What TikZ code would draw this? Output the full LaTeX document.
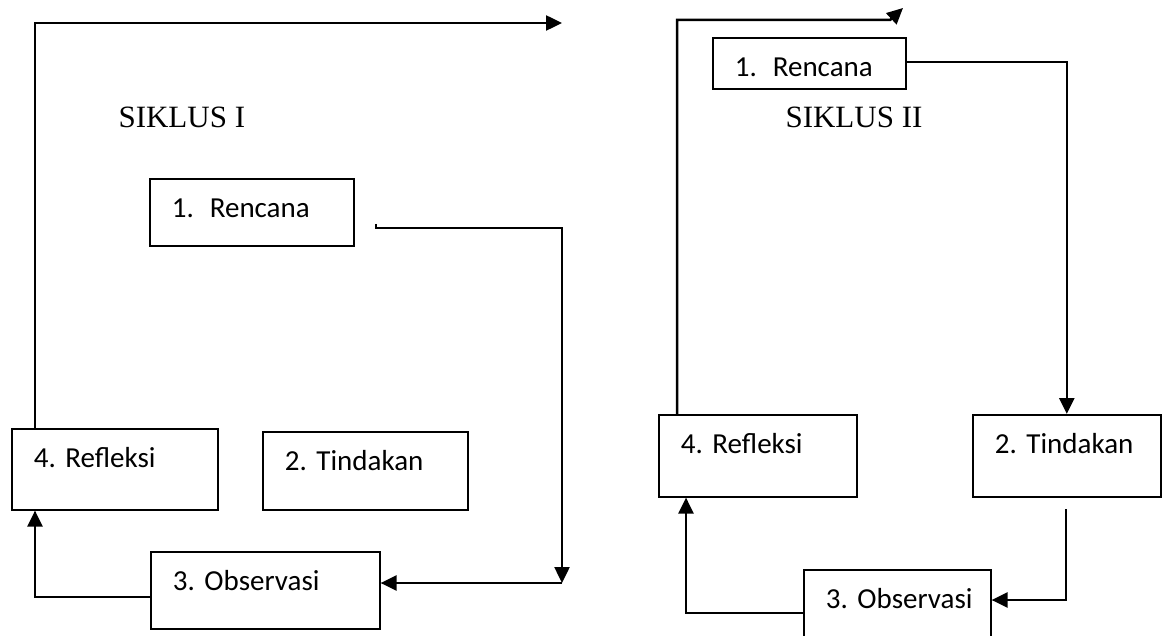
\documentclass[tikz,border=0pt]{standalone}
\usepackage{fontspec}
\setmainfont{Liberation Serif}
\newfontfamily\boxfont{Carlito}
\usetikzlibrary{arrows.meta,calc}
\tikzset{stage/.style={draw, line width=1.6pt, anchor=north west, inner xsep=22pt, inner ysep=0pt,
    align=left, text height=39pt, font=\boxfont\fontsize{29}{35}\selectfont\frenchspacing},
  flow/.style={line width=2.5pt},
  title/.style={anchor=base west, font=\fontsize{31}{37}\selectfont},
  >={Triangle[length=16pt,width=15pt]}}

\begin{document}
\begin{tikzpicture}[x=1pt,y=-1pt]
  \clip (0,0) rectangle (1162,636);
  % siklus I
  \node[title] (sik1) at (115,128) {SIKLUS I};
  \node[stage, text width=160pt, text depth=28pt] (ren1) at (149,178) {1.\hspace{16pt}Rencana};
  \node[stage, text width=162pt, text depth=42pt] (ref1) at (11,428) {4. Refleksi};
  \node[stage, text width=161pt, text depth=39pt] (tin1) at (262,431) {2. Tindakan};
  \node[stage, text width=185pt, text depth=38pt] (obs1) at (150,551) {3. Observasi};
  \coordinate (top1) at (562,23);
  \coordinate (t1) at (376,224);
  \coordinate (c1) at (562,583);
  \coordinate (c2) at (35,597);
  \draw[flow,->] ([xshift=24pt]ref1.north west) |- (top1);
  \draw[flow,->] (t1) -- ++(0,4) -| (c1);
  \draw[flow,->] (c1) -- (obs1.east |- c1);
  \draw[flow,->] (obs1.west |- c2) -| ([xshift=24pt]ref1.south west);
  % siklus II
  \node[title] (sik2) at (782,128) {SIKLUS II};
  \node[stage, text width=149pt, text depth=12pt] (ren2) at (712,37) {1.\hspace{16pt}Rencana};
  \node[stage, text width=154pt, text depth=43pt] (ref2) at (658,414) {4. Refleksi};
  \node[stage, text width=144pt, text depth=43pt] (tin2) at (972,414) {2. Tindakan};
  \node[stage, text width=143pt, text depth=41pt] (obs2) at (803,569) {\mbox{3. Observasi}};
  \coordinate (c3) at (890,20);
  \coordinate (top2) at (903,8);
  \coordinate (c4) at (1066,62);
  \coordinate (c5) at (1066,509);
  \coordinate (c6) at (1066,600);
  \coordinate (c7) at (686,613);
  \draw[flow,->] ([xshift=19pt]ref2.north west) |- (c3)
    -- (top2);
  \draw[flow,->] (ren2.east |- c4) -| (tin2.north);
  \draw[flow,->] (c5) -- (c6) -- (obs2.east |- c6);
  \draw[flow,->] (obs2.west |- c7) -| ([xshift=28pt]ref2.south west);
\end{tikzpicture}
\end{document}
